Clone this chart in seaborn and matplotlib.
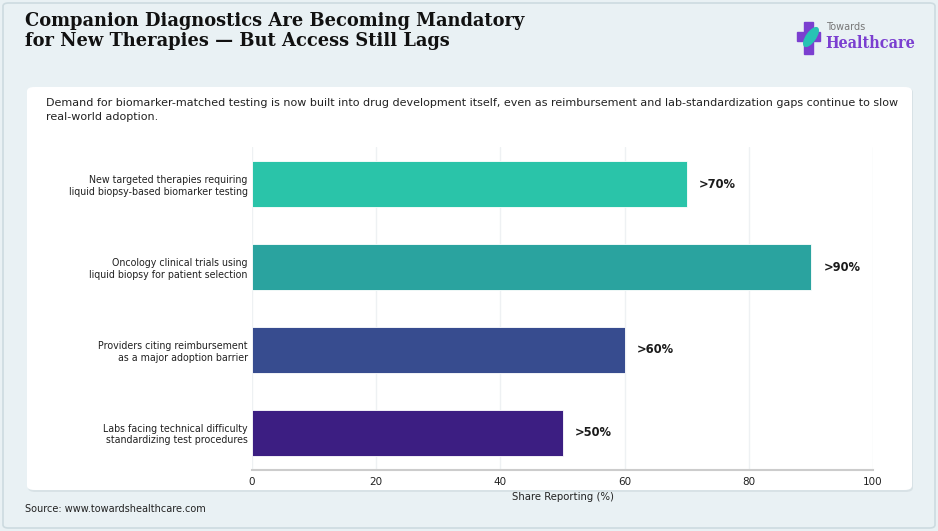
import matplotlib
matplotlib.use("Agg")
import matplotlib.pyplot as plt
import seaborn as sns
import pandas as pd
from matplotlib.patches import FancyBboxPatch, Rectangle, Ellipse

categories = [
    "New targeted therapies requiring\nliquid biopsy-based biomarker testing",
    "Oncology clinical trials using\nliquid biopsy for patient selection",
    "Providers citing reimbursement\nas a major adoption barrier",
    "Labs facing technical difficulty\nstandardizing test procedures",
]
values = [70, 90, 60, 50]
value_labels = [">70%", ">90%", ">60%", ">50%"]
bar_colors = ["#2ac4a9", "#2aa39f", "#374c8f", "#3c1e82"]
x_ticks = [0, 20, 40, 60, 80, 100]

df = pd.DataFrame({"category": categories, "value": values})

sns.set_theme(style="white")
plt.rcParams["font.family"] = ["DejaVu Sans"]

W, H = 938, 531
fig = plt.figure(figsize=(W / 100, H / 100), dpi=100)
fig.patch.set_facecolor("#e9f1f4")

# outer border
fig.patches.append(FancyBboxPatch((3 / W, 3 / H), (W - 6) / W, (H - 6) / H,
                                  boxstyle="round,pad=0,rounding_size=0.006",
                                  transform=fig.transFigure, facecolor="#e9f1f4",
                                  edgecolor="#cddbe0", linewidth=1.2, zorder=-3))
# card shadow + card
fig.patches.append(FancyBboxPatch((28 / W, (H - 492) / H), (912 - 27) / W, (492 - 88) / H,
                                  boxstyle="round,pad=0,rounding_size=0.008",
                                  transform=fig.transFigure, facecolor="#d8e2e6",
                                  edgecolor="none", zorder=-2))
fig.patches.append(FancyBboxPatch((27 / W, (H - 490) / H), (912 - 27) / W, (490 - 87) / H,
                                  boxstyle="round,pad=0,rounding_size=0.008",
                                  transform=fig.transFigure, facecolor="white",
                                  edgecolor="none", zorder=-1))

ax = fig.add_axes([252 / W, (H - 470) / H, (873 - 252) / W, (470 - 147) / H])
ax.set_facecolor("none")
sns.barplot(data=df, x="value", y="category", hue="category", palette=bar_colors,
            legend=False, width=0.55, orient="h", ax=ax, edgecolor="white", linewidth=0.6,
            saturation=1, zorder=3)
ax.set_xlim(0, 100)
ax.set_ylim(3.45, -0.45)
ax.set_xticks(x_ticks)
ax.set_xticklabels([str(t) for t in x_ticks], fontsize=7.5, color="#222222")
ax.tick_params(axis="x", length=3, width=0.8, color="#bbbbbb", pad=2)
ax.tick_params(axis="y", length=0, labelsize=6.85, labelcolor="#222222", pad=3)
for lbl in ax.get_yticklabels():
    lbl.set_horizontalalignment("right")
ax.set_ylabel("")
ax.set_xlabel("Share Reporting (%)", fontsize=7.3, color="#222222", labelpad=4)
ax.grid(axis="x", color="#eef1f3", linewidth=1.0, zorder=0)
ax.set_axisbelow(True)
for s in ["top", "right", "left"]:
    ax.spines[s].set_visible(False)
ax.spines["bottom"].set_color("#cccccc")
ax.spines["bottom"].set_linewidth(1.5)

for i, (v, t) in enumerate(zip(values, value_labels)):
    ax.text(v + 2, i, t, va="center", ha="left", fontsize=8.3, fontweight="bold",
            color="#1a1a1a")

# title
fig.text(25 / W, 1 - 12.5 / H,
         "Companion Diagnostics Are Becoming Mandatory\nfor New Therapies \u2014 But Access Still Lags",
         ha="left", va="top", fontsize=12.9, fontweight="bold", family="DejaVu Serif",
         color="#111111", linespacing=1.12)
# subtitle
fig.text(46 / W, 1 - 98.5 / H,
         "Demand for biomarker-matched testing is now built into drug development itself, even as reimbursement and lab-standardization gaps continue to slow\nreal-world adoption.",
         ha="left", va="top", fontsize=8.05, color="#222222", linespacing=1.5)
# source
fig.text(25 / W, 1 - 509 / H, "Source: www.towardshealthcare.com", ha="left", va="center",
         fontsize=7, color="#222222")

# logo
lax = fig.add_axes([795 / W, 1 - 56 / H, 125 / W, 36 / H])
lax.set_xlim(0, 125)
lax.set_ylim(36, 0)
lax.axis("off")
purple = "#7b3fd0"
lax.add_patch(Rectangle((9, 2), 9, 32, color=purple))
lax.add_patch(Rectangle((2, 12), 23, 9, color=purple))
lax.add_patch(Ellipse((16, 17), 9, 22, angle=35, color="#27c3b4"))
lax.text(31, 7, "Towards", fontsize=7, color="#777777", va="center", ha="left")
lax.text(30, 23, "Healthcare", fontsize=11.5, color=purple, va="center", ha="left",
         family="DejaVu Serif", fontweight="bold", fontstretch="condensed")

fig.savefig("out.png", dpi=100, facecolor=fig.get_facecolor())
